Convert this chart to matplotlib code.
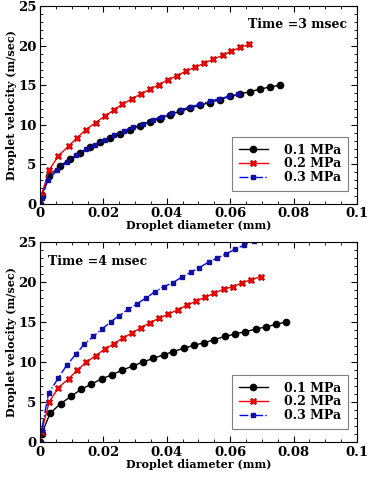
import matplotlib
matplotlib.use("Agg")
import matplotlib.pyplot as plt
from matplotlib.ticker import MultipleLocator

plt.rcParams['font.family'] = ['DejaVu Serif']
plt.rcParams['font.weight'] = 'bold'

labels = ['0.1 MPa', '0.2 MPa', '0.3 MPa']

# Time = 3 msec
t3_d1 = [0.0, 0.0005, 0.0029, 0.0063, 0.0095, 0.0126, 0.0158, 0.0189, 0.0221, 0.0252,
         0.0284, 0.0315, 0.0347, 0.0378, 0.0410, 0.0441, 0.0473, 0.0504, 0.0536, 0.0567,
         0.0599, 0.0630, 0.0662, 0.0693, 0.0725, 0.0756]
t3_v1 = [0.0, 1.0, 3.6, 4.8, 5.7, 6.5, 7.2, 7.8, 8.4, 8.9,
         9.4, 9.9, 10.4, 10.8, 11.3, 11.7, 12.1, 12.5, 12.8, 13.2,
         13.6, 13.9, 14.2, 14.5, 14.8, 15.0]
t3_d2 = [0.0, 0.0005, 0.0029, 0.0058, 0.0090, 0.0118, 0.0145, 0.0176, 0.0204, 0.0234,
         0.0260, 0.0290, 0.0318, 0.0347, 0.0376, 0.0403, 0.0432, 0.0460, 0.0490, 0.0518,
         0.0547, 0.0576, 0.0602, 0.0632, 0.0661]
t3_v2 = [0.0, 1.2, 4.3, 6.1, 7.3, 8.4, 9.4, 10.3, 11.1, 11.9,
         12.6, 13.3, 13.9, 14.5, 15.1, 15.7, 16.2, 16.8, 17.3, 17.8,
         18.3, 18.8, 19.3, 19.8, 20.2]
t3_d3 = [0.0, 0.0005, 0.0025, 0.0055, 0.0085, 0.0115, 0.0145, 0.0175, 0.0205, 0.0235,
         0.0265, 0.0295, 0.0325, 0.0355, 0.0385, 0.0415, 0.0445, 0.0475, 0.0505, 0.0535,
         0.0565, 0.0595, 0.0625]
t3_v3 = [0.0, 0.8, 3.0, 4.3, 5.3, 6.2, 6.9, 7.5, 8.1, 8.7,
         9.2, 9.7, 10.1, 10.6, 11.0, 11.5, 11.9, 12.3, 12.6, 13.0,
         13.3, 13.6, 13.9]

# Time = 4 msec
t4_d1 = [0.0, 0.0005, 0.0032, 0.0065, 0.0098, 0.0130, 0.0160, 0.0195, 0.0227, 0.0260,
         0.0293, 0.0324, 0.0358, 0.0390, 0.0420, 0.0453, 0.0486, 0.0518, 0.0550, 0.0584,
         0.0616, 0.0648, 0.0680, 0.0713, 0.0745, 0.0776]
t4_v1 = [0.0, 1.0, 3.6, 4.8, 5.7, 6.6, 7.2, 7.9, 8.4, 9.0,
         9.5, 10.0, 10.45, 10.9, 11.3, 11.7, 12.1, 12.4, 12.8, 13.2,
         13.5, 13.8, 14.1, 14.4, 14.7, 15.0]
t4_d2 = [0.0, 0.0005, 0.0029, 0.0058, 0.0090, 0.0118, 0.0145, 0.0176, 0.0204, 0.0234,
         0.0261, 0.0290, 0.0319, 0.0347, 0.0377, 0.0405, 0.0434, 0.0463, 0.0493, 0.0521,
         0.0550, 0.0579, 0.0608, 0.0638, 0.0667, 0.0697]
t4_v2 = [0.0, 1.3, 5.0, 6.8, 7.9, 9.0, 9.95, 10.8, 11.6, 12.3,
         13.0, 13.6, 14.3, 14.9, 15.5, 16.0, 16.5, 17.1, 17.6, 18.1,
         18.6, 19.1, 19.4, 19.9, 20.3, 20.65]
t4_d3 = [0.0, 0.0005, 0.0027, 0.0058, 0.0084, 0.0114, 0.0139, 0.0168, 0.0195, 0.0223,
         0.0250, 0.0279, 0.0307, 0.0335, 0.0363, 0.0390, 0.0419, 0.0447, 0.0476, 0.0503,
         0.0533, 0.0560, 0.0587, 0.0616, 0.0644, 0.0674, 0.0703]
t4_v3 = [0.0, 1.5, 6.1, 8.0, 9.6, 11.0, 12.2, 13.2, 14.1, 15.0,
         15.8, 16.6, 17.3, 18.0, 18.8, 19.4, 19.9, 20.6, 21.2, 21.8,
         22.5, 23.0, 23.5, 24.1, 24.6, 25.1, 25.6]

fig = plt.figure(figsize=(3.72, 4.8), dpi=100)
ax_top = fig.add_axes([0.1075, 0.575, 0.852, 0.412])
ax_bot = fig.add_axes([0.1075, 0.079, 0.852, 0.417])


def draw_panel(ax, d1, v1, d2, v2, d3, v3, title, title_xy):
    ax.plot(d1, v1, color='black', linestyle='-', linewidth=1.0,
            marker='o', markersize=4.5, label=labels[0])
    ax.plot(d2, v2, color='red', linestyle='-', linewidth=1.0,
            marker='X', markersize=5, markeredgecolor='#a00000',
            markeredgewidth=0.5, label=labels[1])
    ax.plot(d3, v3, color='blue', linestyle='-.', linewidth=1.0,
            marker='s', markersize=3, markerfacecolor='#1010a0',
            markeredgecolor='#1010a0', label=labels[2])
    ax.set_xlim(0, 0.1)
    ax.set_ylim(0, 25)
    ax.set_xticks([0, 0.02, 0.04, 0.06, 0.08, 0.1])
    ax.set_xticklabels(['0', '0.02', '0.04', '0.06', '0.08', '0.1'])
    ax.set_yticks([0, 5, 10, 15, 20, 25])
    ax.xaxis.set_minor_locator(MultipleLocator(0.005))
    ax.yaxis.set_minor_locator(MultipleLocator(1))
    ax.tick_params(which='both', direction='in', top=True, right=True, labelsize=9.5)
    ax.tick_params(which='major', length=4, width=0.8, pad=2.5)
    ax.tick_params(which='minor', length=2, width=0.6)
    ax.set_xlabel('Droplet diameter (mm)', fontsize=8, fontweight='bold', labelpad=0)
    ax.set_ylabel('Droplet velocity (m/sec)', fontsize=8, fontweight='bold', labelpad=1)
    ax.text(title_xy[0], title_xy[1], title, transform=ax.transAxes,
            fontsize=9, fontweight='bold', ha='center', va='center')
    leg = ax.legend(loc='lower right', bbox_to_anchor=(0.972, 0.066), borderaxespad=0,
                    fontsize=9, fancybox=False, framealpha=1, edgecolor='gray',
                    handlelength=2.3, handletextpad=1.3, labelspacing=0.05,
                    borderpad=0.55)
    leg.get_frame().set_linewidth(0.8)


draw_panel(ax_top, t3_d1, t3_v1, t3_d2, t3_v2, t3_d3, t3_v3,
           'Time =3 msec', (0.814, 0.91))
draw_panel(ax_bot, t4_d1, t4_v1, t4_d2, t4_v2, t4_d3, t4_v3,
           'Time =4 msec', (0.183, 0.90))

fig.savefig('out.png', dpi=100)
